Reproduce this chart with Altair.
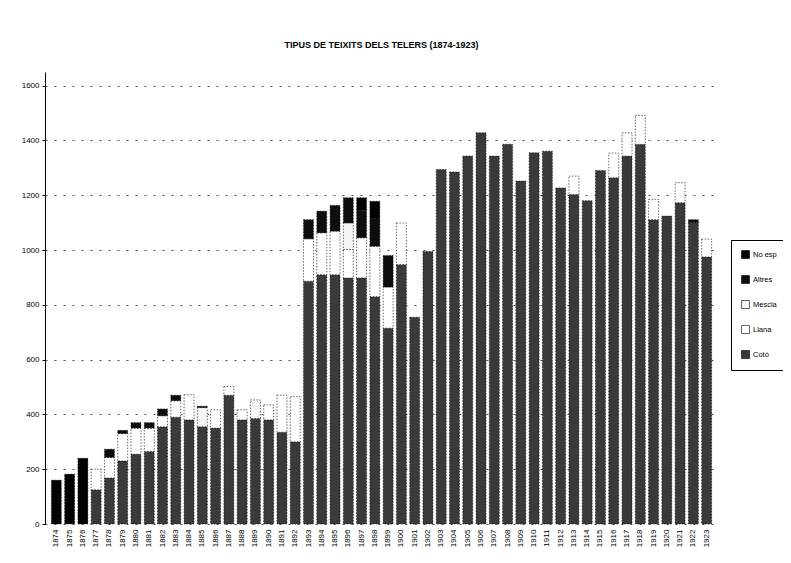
import altair as alt
import pandas as pd

years = [str(y) for y in range(1874, 1924)]

coto = [0, 0, 0, 125, 168, 230, 255, 265, 355, 390,
        380, 355, 350, 470, 380, 385, 380, 335, 300, 886,
        910, 910, 898, 898, 830, 715, 947, 755, 995, 1294,
        1285, 1343, 1428, 1343, 1386, 1252, 1355, 1361, 1227, 1203,
        1180, 1290, 1264, 1343, 1386, 1111, 1124, 1173, 1100, 975]
llana = [0, 0, 0, 75, 75, 100, 95, 85, 40, 60,
         92, 0, 67, 32, 37, 0, 55, 135, 165, 155,
         153, 159, 104, 147, 184, 150, 152, 0, 0, 0,
         0, 0, 0, 0, 0, 0, 0, 0, 0, 67,
         0, 0, 90, 85, 105, 74, 0, 73, 0, 65]
mescla = [0, 0, 0, 0, 0, 0, 0, 0, 0, 0,
          0, 70, 0, 0, 0, 68, 0, 0, 0, 0,
          0, 0, 97, 0, 0, 0, 0, 0, 0, 0,
          0, 0, 0, 0, 0, 0, 0, 0, 0, 0,
          0, 0, 0, 0, 0, 0, 0, 0, 0, 0]
altres = [0, 0, 0, 0, 30, 12, 20, 20, 25, 20,
          0, 5, 0, 0, 0, 0, 0, 0, 0, 70,
          79, 94, 92, 100, 100, 115, 0, 0, 0, 0,
          0, 0, 0, 0, 0, 0, 0, 0, 0, 0,
          0, 0, 0, 0, 0, 0, 0, 0, 11, 0]
noesp = [160, 182, 240, 0, 0, 0, 0, 0, 0, 0,
         0, 0, 0, 0, 0, 0, 0, 0, 0, 0,
         0, 0, 0, 46, 64, 0, 0, 0, 0, 0,
         0, 0, 0, 0, 0, 0, 0, 0, 0, 0,
         0, 0, 0, 0, 0, 0, 0, 0, 0, 0]

stack_series = ["Cotó", "Llana", "Mescla", "Altres", "No esp"]
legend_order = ["No esp", "Altres", "Mescla", "Llana", "Cotó"]
legend_colors = ["#000000", "#0d0d0d", "#f4f4f4", "#ffffff", "#3a3a3a"]
y_ticks = [0, 200, 400, 600, 800, 1000, 1200, 1400, 1600]

rows = []
for i, yr in enumerate(years):
    for k, (name, vals) in enumerate(zip(stack_series, [coto, llana, mescla, altres, noesp])):
        if vals[i] > 0:
            rows.append({"any": yr, "tipus": name, "valor": vals[i], "ordre": k})
df = pd.DataFrame(rows)

FONT = "Liberation Sans"

chart = alt.Chart(df).mark_bar(
    stroke="black", strokeWidth=0.6, strokeDash=[1.5, 1.5]
).encode(
    x=alt.X("any:O", title=None, sort=years,
            scale=alt.Scale(domain=years, paddingInner=0.25, paddingOuter=0.48),
            axis=alt.Axis(labelAngle=-90, labelFontSize=8, labelFont=FONT, ticks=False,
                          domain=False, labelPadding=5, labelColor="black")),
    y=alt.Y("valor:Q", stack="zero", title=None,
            scale=alt.Scale(domain=[0, 1650], nice=False),
            axis=alt.Axis(values=y_ticks, format="d", grid=True, gridDash=[2, 7],
                          gridColor="#222", gridWidth=0.8, labelFontSize=8, labelFont=FONT,
                          tickSize=3, labelPadding=3, domainColor="black",
                          tickColor="black", labelColor="black")),
    color=alt.Color("tipus:N",
                    scale=alt.Scale(domain=legend_order, range=legend_colors),
                    legend=alt.Legend(title=None, orient="none", legendX=686, legendY=168,
                                      symbolType="square", symbolSize=64,
                                      symbolStrokeColor="black", symbolStrokeWidth=0.6,
                                      labelFontSize=7.5, labelFont=FONT, rowPadding=14,
                                      labelOffset=3, padding=10, strokeColor="black",
                                      labelColor="black")),
    order=alt.Order("ordre:Q", sort="ascending"),
).properties(
    width=673, height=452,
    title=alt.Title("TIPUS DE TEIXITS DELS TELERS (1874-1923)", fontSize=9,
                    font=FONT, fontWeight="bold", anchor="middle", offset=22,
                    color="black"),
    autosize="none",
    padding={"left": 37, "top": 64, "right": 65, "bottom": 30},
).configure_view(stroke=None)

chart.save("out.html", embed_options={"renderer": "svg", "actions": False})
